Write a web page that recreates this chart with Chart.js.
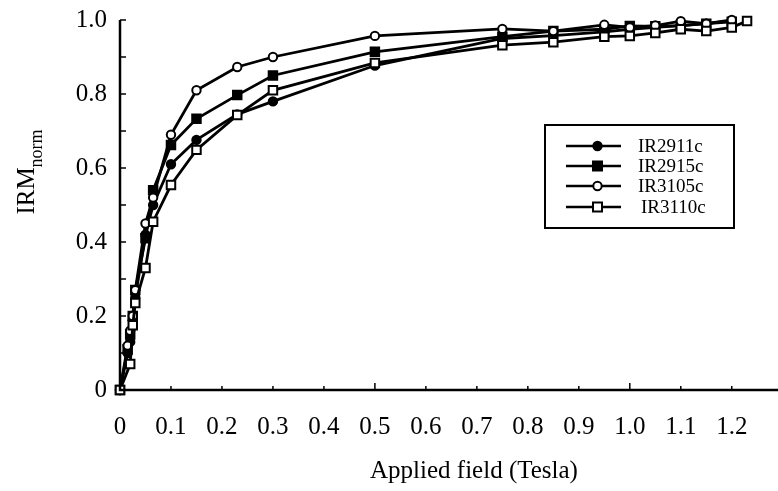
<!DOCTYPE html>
<html>
<head>
<meta charset="utf-8">
<script src="https://cdn.jsdelivr.net/npm/chart.js@4.4.1/dist/chart.umd.min.js"></script>
<style>
  html, body { margin: 0; padding: 0; background: #fff; }
  #wrap { width: 778px; height: 491px; position: relative; }
</style>
</head>
<body>
<div id="wrap"><canvas id="irm"></canvas></div>
<script>
// champ applique (Tesla)
var fields = [0, 0.015, 0.02, 0.025, 0.03, 0.05, 0.065, 0.1, 0.15, 0.23, 0.3, 0.5, 0.75, 0.85, 0.95, 1.0, 1.05, 1.1, 1.15, 1.2, 1.23];

// IRM normalisee par echantillon
var ir2911c = [0, 0.10, 0.13, 0.19, 0.25, 0.42, 0.50, 0.61, 0.676, 0.745, 0.78, 0.877, 0.95, 0.958, 0.968, 0.975, 0.98, 0.985, 0.99, 0.998, null];
var ir2915c = [0, 0.11, 0.15, 0.20, 0.27, 0.41, 0.54, 0.662, 0.733, 0.797, 0.85, 0.914, 0.955, 0.97, 0.975, 0.984, 0.983, 0.985, 0.99, 0.995, null];
var ir3105c = [0, 0.12, 0.16, 0.20, 0.27, 0.45, 0.52, 0.69, 0.81, 0.873, 0.90, 0.957, 0.976, 0.97, 0.987, 0.98, 0.985, 0.997, 0.99, 1.0, null];
var ir3110c = [0, null, 0.07, 0.175, 0.235, 0.33, 0.455, 0.554, 0.649, 0.743, 0.81, 0.884, 0.932, 0.94, 0.955, 0.957, 0.965, 0.975, 0.97, 0.98, 0.997];

var seriesNames = ['IR2911c', 'IR2915c', 'IR3105c', 'IR3110c'];
var xTicks = [0, 0.1, 0.2, 0.3, 0.4, 0.5, 0.6, 0.7, 0.8, 0.9, 1.0, 1.1, 1.2];
var yTicks = [0, 0.2, 0.4, 0.6, 0.8, 1.0];

var serif = '"Liberation Serif", "DejaVu Serif", serif';

function toPoints(vals) {
    var pts = [];
    for (var i = 0; i < fields.length; i++) {
        if (vals[i] !== null) pts.push({x: fields[i], y: vals[i]});
    }
    return pts;
}

function mkSet(label, vals, style, filled, ord) {
    return {
        label: label,
        data: toPoints(vals),
        showLine: true,
        borderColor: '#000',
        borderWidth: 2.8,
        pointStyle: style,
        pointRadius: style == 'rect' ? 6 : 4.2,
        pointBorderWidth: 2,
        pointBorderColor: '#000',
        pointBackgroundColor: filled ? '#000' : '#fff',
        order: ord,
        clip: false
    };
}

// axes + ticks vers l'interieur
var axesPlugin = {
    id: 'axesPlugin',
    afterDatasetsDraw: function(chart) {
        var ctx = chart.ctx, xs = chart.scales.x, ys = chart.scales.y;
        var x0 = xs.getPixelForValue(0), y0 = ys.getPixelForValue(0);
        ctx.save();
        ctx.strokeStyle = '#000';
        ctx.lineWidth = 2.5;
        ctx.beginPath();
        ctx.moveTo(x0, ys.getPixelForValue(1.0));
        ctx.lineTo(x0, y0);
        ctx.lineTo(chart.width, y0);
        ctx.stroke();
        ctx.lineWidth = 1.5;
        for (var i = 1; i <= 12; i++) {
            var px = xs.getPixelForValue(i / 10);
            var len = (i % 5 == 0) ? 7 : 4;
            ctx.beginPath(); ctx.moveTo(px, y0); ctx.lineTo(px, y0 - len); ctx.stroke();
        }
        for (var j = 1; j <= 10; j++) {
            var py = ys.getPixelForValue(j / 10);
            ctx.beginPath(); ctx.moveTo(x0, py); ctx.lineTo(x0 + 6, py); ctx.stroke();
        }
        ctx.restore();
    }
};

// titres des axes et legende encadree
var textPlugin = {
    id: 'textPlugin',
    afterDraw: function(chart) {
        var ctx = chart.ctx;
        ctx.save();
        ctx.fillStyle = '#000';
        ctx.font = '25px ' + serif;
        ctx.textAlign = 'center';
        ctx.textBaseline = 'alphabetic';
        ctx.fillText('Applied field (Tesla)', 474, 478);

        // IRM_norm vertical
        ctx.translate(34, 172);
        ctx.rotate(-Math.PI / 2);
        ctx.font = '25px ' + serif;
        var w1 = ctx.measureText('IRM').width;
        ctx.font = '18px ' + serif;
        var w2 = ctx.measureText('norm').width;
        var start = -(w1 + w2) / 2;
        ctx.textAlign = 'left';
        ctx.font = '25px ' + serif;
        ctx.fillText('IRM', start, 0);
        ctx.font = '18px ' + serif;
        ctx.fillText('norm', start + w1, 8);
        ctx.restore();

        // legende
        ctx.save();
        ctx.strokeStyle = '#000';
        ctx.lineWidth = 2;
        ctx.strokeRect(545, 125, 189, 103);
        var rows = [146, 166, 186, 207];
        chart.data.datasets.forEach(function(ds, k) {
            var y = rows[k];
            ctx.lineWidth = 2.5;
            ctx.beginPath(); ctx.moveTo(566, y); ctx.lineTo(621, y); ctx.stroke();
            ctx.lineWidth = 2;
            ctx.fillStyle = ds.pointBackgroundColor;
            ctx.beginPath();
            if (ds.pointStyle == 'rect') {
                ctx.rect(593, y - 4.5, 9, 9);
            } else {
                ctx.arc(597.5, y, 4.2, 0, Math.PI * 2);
            }
            ctx.fill(); ctx.stroke();
            ctx.fillStyle = '#000';
            ctx.font = '19px ' + serif;
            ctx.textAlign = 'left';
            ctx.textBaseline = 'middle';
            ctx.fillText(ds.label, 638 + (k == 3 ? 3 : 0), y + 1);
        });
        ctx.restore();
    }
};

var ctx = document.getElementById('irm').getContext('2d');
var irmChart = new Chart(ctx, {
    type: 'scatter',
    data: {
        datasets: [
            mkSet(seriesNames[0], ir2911c, 'circle', true, 3),
            mkSet(seriesNames[1], ir2915c, 'rect', true, 2),
            mkSet(seriesNames[2], ir3105c, 'circle', false, 1),
            mkSet(seriesNames[3], ir3110c, 'rect', false, 0)
        ]
    },
    options: {
        responsive: true,
        maintainAspectRatio: false,
        animation: false,
        layout: { padding: { top: 20, left: 0, right: 0, bottom: 0 } },
        plugins: {
            legend: { display: false },
            tooltip: { enabled: false }
        },
        scales: {
            x: {
                type: 'linear',
                min: 0,
                max: 1.275,
                afterFit: function(s) { s.height = 101; },
                afterBuildTicks: function(s) { s.ticks = xTicks.map(function(v) { return {value: v}; }); },
                grid: { display: false },
                border: { display: false },
                ticks: {
                    color: '#000',
                    padding: 14,
                    font: { family: serif, size: 25 },
                    maxRotation: 0,
                    autoSkip: false,
                    callback: function(v) { return v == 0 ? '0' : v.toFixed(1); }
                }
            },
            y: {
                min: 0,
                max: 1.0,
                afterFit: function(s) { s.width = 120; },
                afterBuildTicks: function(s) { s.ticks = yTicks.map(function(v) { return {value: v}; }); },
                grid: { display: false },
                border: { display: false },
                ticks: {
                    color: '#000',
                    padding: 5,
                    font: { family: serif, size: 25 },
                    callback: function(v) { return v == 0 ? '0' : v.toFixed(1); }
                }
            }
        }
    },
    plugins: [axesPlugin, textPlugin]
});
</script>
</body>
</html>
